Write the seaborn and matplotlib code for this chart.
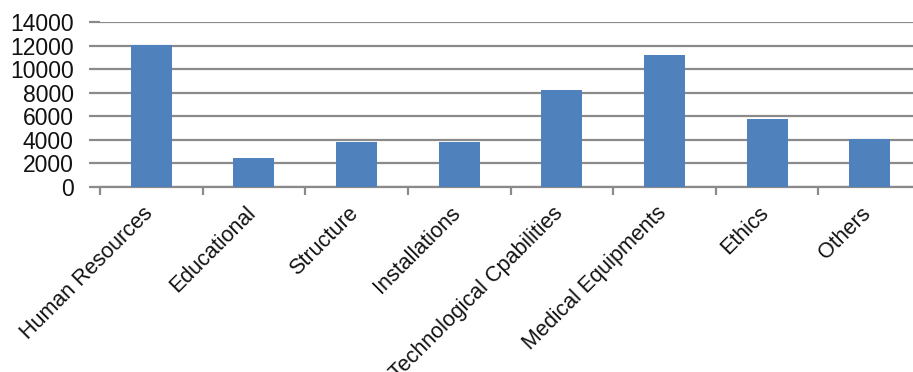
import matplotlib
matplotlib.use("Agg")
import matplotlib.pyplot as plt
import matplotlib.transforms as mtransforms
import seaborn as sns
import pandas as pd
import numpy as np

categories = ["Human Resources", "Educational", "Structure", "Installations",
              "Technological Cpabilities", "Medical Equipments", "Ethics", "Others"]
values = [12050, 2500, 3850, 3830, 8230, 11200, 5770, 4050]
yticks = [0, 2000, 4000, 6000, 8000, 10000, 12000, 14000]

sns.set_theme(style="white")
plt.rcParams['font.family'] = ['Liberation Sans', 'DejaVu Sans']

df = pd.DataFrame({"category": categories, "value": values})

fig = plt.figure(figsize=(9.13, 3.72), dpi=100)
ax = fig.add_axes([100/913, 1 - 187/372, 821/913, 165/372])

sns.barplot(data=df, x="category", y="value", order=categories, color="#4F81BD",
            saturation=1, width=0.4, ax=ax, zorder=3, linewidth=0, edgecolor="none")

ax.set_ylim(0, 14000)
ax.set_xlim(-0.5, len(categories) - 0.5)
ax.set_yticks(yticks)
ax.set_yticklabels([str(v) for v in yticks], fontsize=16.5, color="#111111")
ax.yaxis.grid(True, color="#8a8a8a", linewidth=1.6, zorder=0)
ax.set_axisbelow(True)
for s in ["top", "right", "left"]:
    ax.spines[s].set_visible(False)
ax.spines["bottom"].set_color("#8a8a8a")
ax.spines["bottom"].set_linewidth(1.6)

ax.tick_params(axis="y", which="major", left=True, length=8, width=1.6, color="#8a8a8a", pad=11)
ax.set_xticks(np.arange(len(categories)))
ax.set_xticklabels(categories, rotation=45, ha="right", va="top",
                   rotation_mode="anchor", fontsize=15.5, color="#111111")
ax.tick_params(axis="x", which="major", length=0, pad=12)
offset = mtransforms.ScaledTranslation(-9/100, 1/100, fig.dpi_scale_trans)
for lab in ax.get_xticklabels():
    lab.set_transform(lab.get_transform() + offset)
ax.set_xticks(np.arange(-0.5, len(categories), 1.0), minor=True)
ax.tick_params(axis="x", which="minor", bottom=True, length=6, width=1.6, color="#8a8a8a")

ax.set_xlabel("")
ax.set_ylabel("")

fig.savefig("out.png", dpi=100)
